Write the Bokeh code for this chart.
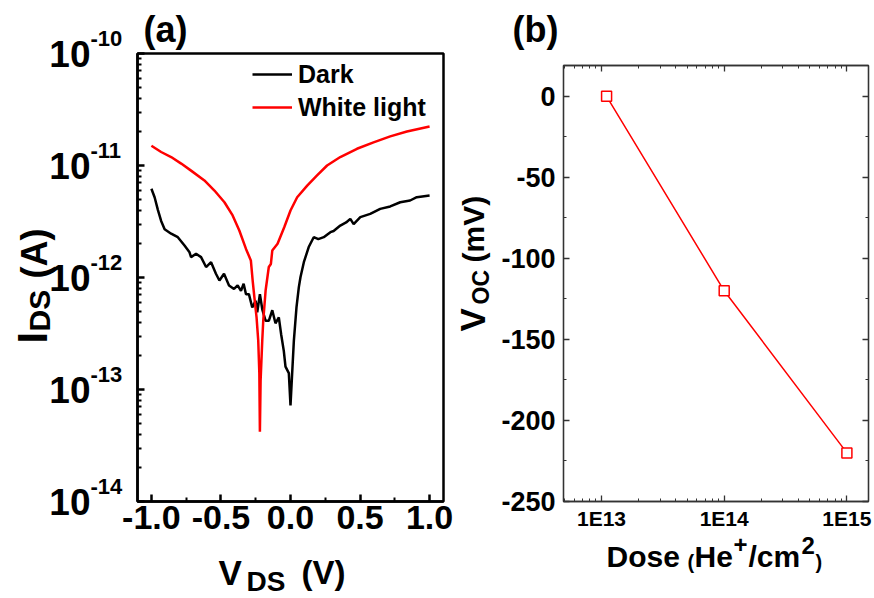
import math
from bokeh.plotting import figure
from bokeh.models import (Range1d, FixedTicker, CustomJSTickFormatter, LinearAxis,
                          Label, Legend, LegendItem, GridBox)
from bokeh.embed import file_html
from bokeh.resources import INLINE

FONT = "Liberation Sans"

# ---------------- data: panel (a) ----------------
v_dark = [-1.0, -0.977, -0.953, -0.930, -0.905, -0.858, -0.810, -0.762, -0.726, -0.715,
          -0.679, -0.643, -0.607, -0.571, -0.536, -0.511, -0.478, -0.442, -0.406, -0.380,
          -0.356, -0.337, -0.320, -0.299, -0.275, -0.251, -0.239, -0.220, -0.203, -0.179,
          -0.156, -0.131, -0.108, -0.084, -0.067, -0.048, -0.036, -0.012, 0.0, 0.012,
          0.024, 0.043, 0.060, 0.072, 0.096, 0.131, 0.167, 0.200, 0.239, 0.287, 0.310,
          0.358, 0.400, 0.430, 0.454, 0.502, 0.573, 0.645, 0.717, 0.789, 0.860, 0.908, 1.0]
i_dark = [6.2e-12, 5.2e-12, 4.0e-12, 3.2e-12, 2.7e-12, 2.46e-12, 2.29e-12, 1.93e-12, 1.68e-12, 1.52e-12,
          1.63e-12, 1.52e-12, 1.24e-12, 1.37e-12, 1.08e-12, 9.4e-13, 1.08e-12, 8.5e-13, 7.9e-13, 8.5e-13,
          7.6e-13, 8.8e-13, 7.1e-13, 7.1e-13, 5.4e-13, 6.2e-13, 4.9e-13, 7.1e-13, 5.2e-13, 4.1e-13,
          4.1e-13, 5.1e-13, 3.9e-13, 4.4e-13, 3.1e-13, 2.2e-13, 1.6e-13, 1.4e-13, 7.2e-14, 1.4e-13,
          2.7e-13, 5.4e-13, 8.2e-13, 1.01e-12, 1.37e-12, 1.87e-12, 2.29e-12, 2.2e-12, 2.29e-12, 2.54e-12, 2.6e-12,
          2.91e-12, 3.1e-12, 3.34e-12, 3.0e-12, 3.46e-12, 3.70e-12, 4.1e-12, 4.31e-12, 4.70e-12, 4.87e-12, 5.21e-12, 5.4e-12]

v_white = [-1.0, -0.930, -0.858, -0.786, -0.715, -0.619, -0.547, -0.475, -0.416, -0.368,
           -0.320, -0.285, -0.272, -0.260, -0.244, -0.232, -0.224, -0.220, -0.215, -0.203,
           -0.196, -0.179, -0.156, -0.141, -0.131, -0.093, -0.045, 0.0, 0.048, 0.120,
           0.191, 0.263, 0.358, 0.478, 0.597, 0.717, 0.837, 1.0]
i_white = [1.5e-11, 1.32e-11, 1.19e-11, 1.04e-11, 9.0e-12, 7.35e-12, 5.98e-12, 4.70e-12, 3.58e-12, 2.63e-12,
           1.80e-12, 1.42e-12, 9.4e-13, 6.7e-13, 4.4e-13, 2.74e-13, 1.39e-13, 4.2e-14, 1.2e-13, 2.74e-13,
           4.1e-13, 7.65e-13, 1.24e-12, 1.32e-12, 1.74e-12, 2.0e-12, 2.81e-12, 3.96e-12, 5.21e-12, 6.62e-12,
           8.15e-12, 1.0e-11, 1.19e-11, 1.41e-11, 1.61e-11, 1.82e-11, 2.01e-11, 2.23e-11]

series_names = ["Dark", "White light"]
a_x_ticks = [-1.0, -0.5, 0.0, 0.5, 1.0]
a_x_minor = [-0.75, -0.25, 0.25, 0.75]
a_y_exponents = [-14, -13, -12, -11, -10]

# ---------------- data: panel (b) ----------------
dose = [1.1e13, 1e14, 1e15]
voc = [0, -120, -220]
b_x_exponents = [13, 14, 15]
b_y_ticks = [-250, -200, -150, -100, -50, 0]
b_y_minor = [-225, -175, -125, -75, -25]

# ---------------- geometry ----------------
A_W, A_H, A_BORD = 460, 598, (137, 17, 53, 97)     # left, right, top, bottom
B_W, B_H, B_BORD = 414, 598, (103, 6, 65, 97)
A_XR, A_YR = (-1.1, 1.1), (1e-14, 1e-10)
B_XR, B_YR = (4.9e12, 1.5e15), (-250, 19)


def style_axis(ax, color, lw, maj, mnr, font_size):
    ax.axis_line_width = lw
    ax.axis_line_color = color
    ax.major_tick_in = maj
    ax.major_tick_out = 0
    ax.minor_tick_in = mnr
    ax.minor_tick_out = 0
    ax.major_tick_line_width = lw
    ax.minor_tick_line_width = max(1, lw - 0.5)
    ax.major_tick_line_color = color
    ax.minor_tick_line_color = color
    ax.major_label_text_font = FONT
    ax.major_label_text_font_style = "bold"
    ax.major_label_text_font_size = font_size
    ax.major_label_text_color = "black"


def panel(w, h, bord, xr, yr, xlog, ylog):
    L, R, T, B = bord
    p = figure(width=w, height=h, x_range=Range1d(*xr), y_range=Range1d(*yr),
               x_axis_type="log" if xlog else "linear", y_axis_type="log" if ylog else "linear",
               output_backend="svg", toolbar_location=None,
               min_border_left=L, min_border_right=R, min_border_top=T, min_border_bottom=B)
    p.frame_align = False
    p.grid.visible = False
    p.background_fill_color = None
    p.border_fill_color = None
    return p


def text_layer(w, h, bord, xr, yr, xlog, ylog):
    """Transparent full-canvas layer sharing the panel's scales, for texts outside the frame."""
    L, R, T, B = bord

    def ext(a, b, lo_px, hi_px, span_px, log):
        if log:
            a, b = math.log10(a), math.log10(b)
        k = (b - a) / span_px
        lo, hi = a - lo_px * k, b + hi_px * k
        return (10 ** lo, 10 ** hi) if log else (lo, hi)

    x0, x1 = ext(xr[0], xr[1], L, R, w - L - R, xlog)
    y0, y1 = ext(yr[0], yr[1], B, T, h - T - B, ylog)
    t = figure(width=w, height=h, x_range=Range1d(x0, x1), y_range=Range1d(y0, y1),
               x_axis_type="log" if xlog else "linear", y_axis_type="log" if ylog else "linear",
               x_axis_location=None, y_axis_location=None, output_backend="svg",
               toolbar_location=None, min_border_left=0, min_border_right=0,
               min_border_top=0, min_border_bottom=0)
    t.frame_align = False
    t.title.visible = False
    t.grid.visible = False
    t.outline_line_color = None
    t.background_fill_color = None
    t.border_fill_color = None
    return t


def lab(p, x, y, text, size, dx, dy, angle=0.0):
    p.add_layout(Label(x=x, y=y, x_offset=dx, y_offset=dy, text=text, angle=angle,
                       text_font=FONT, text_font_size=f"{size}px", text_font_style="bold",
                       text_color="black", text_align="left", text_baseline="middle"))


# ================= panel (a) =================
pa = panel(A_W, A_H, A_BORD, A_XR, A_YR, False, True)
pa.outline_line_color = "black"
pa.outline_line_width = 2.5

ax_a_x = pa.xaxis[0]
ax_a_y = pa.yaxis[0]
ax_a_x.ticker = FixedTicker(ticks=a_x_ticks, minor_ticks=a_x_minor)
ax_a_x.formatter = CustomJSTickFormatter(code="return tick.toFixed(1);")
y_minor = [m * 10.0 ** e for e in a_y_exponents[:-1] for m in range(2, 10)]
ax_a_y.ticker = FixedTicker(ticks=[10.0 ** e for e in a_y_exponents], minor_ticks=y_minor)
ax_a_y.formatter = CustomJSTickFormatter(code="return '10';")
style_axis(ax_a_x, "black", 2.5, 7, 4, "34px")
style_axis(ax_a_y, "black", 2.5, 7, 4, "37px")
ax_a_x.major_label_standoff = 4
ax_a_y.major_label_standoff = 47

r_dark = pa.line(v_dark, i_dark, line_color="black", line_width=2.5)
r_white = pa.line(v_white, i_white, line_color="#ff0000", line_width=2.5)

legend = Legend(items=[LegendItem(label=series_names[0], renderers=[r_dark]),
                       LegendItem(label=series_names[1], renderers=[r_white])],
                location=(115, 379), glyph_width=40, glyph_height=30, label_height=30,
                label_standoff=6, spacing=3, padding=0, margin=0,
                border_line_color=None, background_fill_alpha=0,
                label_text_font=FONT, label_text_font_style="bold",
                label_text_font_size="25px", label_text_color="black")
pa.add_layout(legend)

ta = text_layer(A_W, A_H, A_BORD, A_XR, A_YR, False, True)
X0a, Y0a = A_XR[0], A_YR[0]
for e in a_y_exponents:
    lab(ta, X0a, 10.0 ** e, str(e), 22, -47, 15)
lab(ta, X0a, Y0a, "I", 42, -105, 158, angle=math.pi / 2)
lab(ta, X0a, Y0a, "DS", 30, -98, 170, angle=math.pi / 2)
lab(ta, X0a, Y0a, "(A)", 36, -103, 223, angle=math.pi / 2)
lab(ta, X0a, Y0a, "V", 35, 81, -71)
lab(ta, X0a, Y0a, "DS", 28, 109, -80)
lab(ta, X0a, Y0a, "(V)", 33, 164, -71)
lab(ta, X0a, Y0a, "(a)", 36, 6, 472)

# ================= panel (b) =================
pb = panel(B_W, B_H, B_BORD, B_XR, B_YR, True, False)
pb.outline_line_color = "#333333"
pb.outline_line_width = 1.3

ax_b_x = pb.xaxis[0]
ax_b_y = pb.yaxis[0]
x_major = [10.0 ** e for e in b_x_exponents]
x_minor = [m * 10.0 ** e for e in [12] + b_x_exponents for m in range(2, 10)
           if B_XR[0] <= m * 10.0 ** e <= B_XR[1]]
xt = FixedTicker(ticks=x_major, minor_ticks=x_minor)
yt = FixedTicker(ticks=b_y_ticks, minor_ticks=b_y_minor)
ax_b_x.ticker = xt
ax_b_x.formatter = CustomJSTickFormatter(code="return '1E' + Math.round(Math.log10(tick));")
ax_b_y.ticker = yt
ax_b_y.formatter = CustomJSTickFormatter(code="return tick.toFixed(0);")
style_axis(ax_b_x, "#333333", 1.3, 6, 3, "21px")
style_axis(ax_b_y, "#333333", 1.3, 6, 3, "27px")
ax_b_x.major_label_standoff = 5
ax_b_y.major_label_standoff = 8

top_ax = LinearAxis(ticker=xt)
right_ax = LinearAxis(ticker=yt)
pb.add_layout(top_ax, "above")
pb.add_layout(right_ax, "right")
for ax in (top_ax, right_ax):
    style_axis(ax, "#333333", 1.3, 6, 3, "10px")
    ax.major_label_text_color = None
    ax.major_label_standoff = 0

pb.line(dose, voc, line_color="#ff0000", line_width=1.5)
pb.scatter(dose, voc, marker="square", size=10, fill_color="white",
           line_color="#ff0000", line_width=1.5)

# text layer for (b) spans the whole page so texts near the panel's left edge are not cut
TB_W = A_W + B_W
TB_BORD = (A_W + B_BORD[0], B_BORD[1], B_BORD[2], B_BORD[3])
tb = text_layer(TB_W, B_H, TB_BORD, B_XR, B_YR, True, False)
X0b, Y0b = B_XR[0], B_YR[0]
lab(tb, X0b, Y0b, "(b)", 36, -51, 472)
lab(tb, X0b, Y0b, "V", 35, -91, 170, angle=math.pi / 2)
lab(tb, X0b, Y0b, "OC", 23, -83, 197, angle=math.pi / 2)
lab(tb, X0b, Y0b, "(mV)", 30, -90, 239, angle=math.pi / 2)
lab(tb, X0b, Y0b, "Dose", 30, 43, -55)
lab(tb, X0b, Y0b, "(", 20, 124, -60)
lab(tb, X0b, Y0b, "He", 30, 131, -55)
lab(tb, X0b, Y0b, "+", 24, 170, -43)
lab(tb, X0b, Y0b, "/cm", 30, 185, -55)
lab(tb, X0b, Y0b, "2", 24, 238, -44)
lab(tb, X0b, Y0b, ")", 20, 252, -60)

layout = GridBox(children=[(pa, 0, 0), (ta, 0, 0), (pb, 0, 1), (tb, 0, 0, 1, 2)])
open("out.html", "w").write(file_html(layout, INLINE))
